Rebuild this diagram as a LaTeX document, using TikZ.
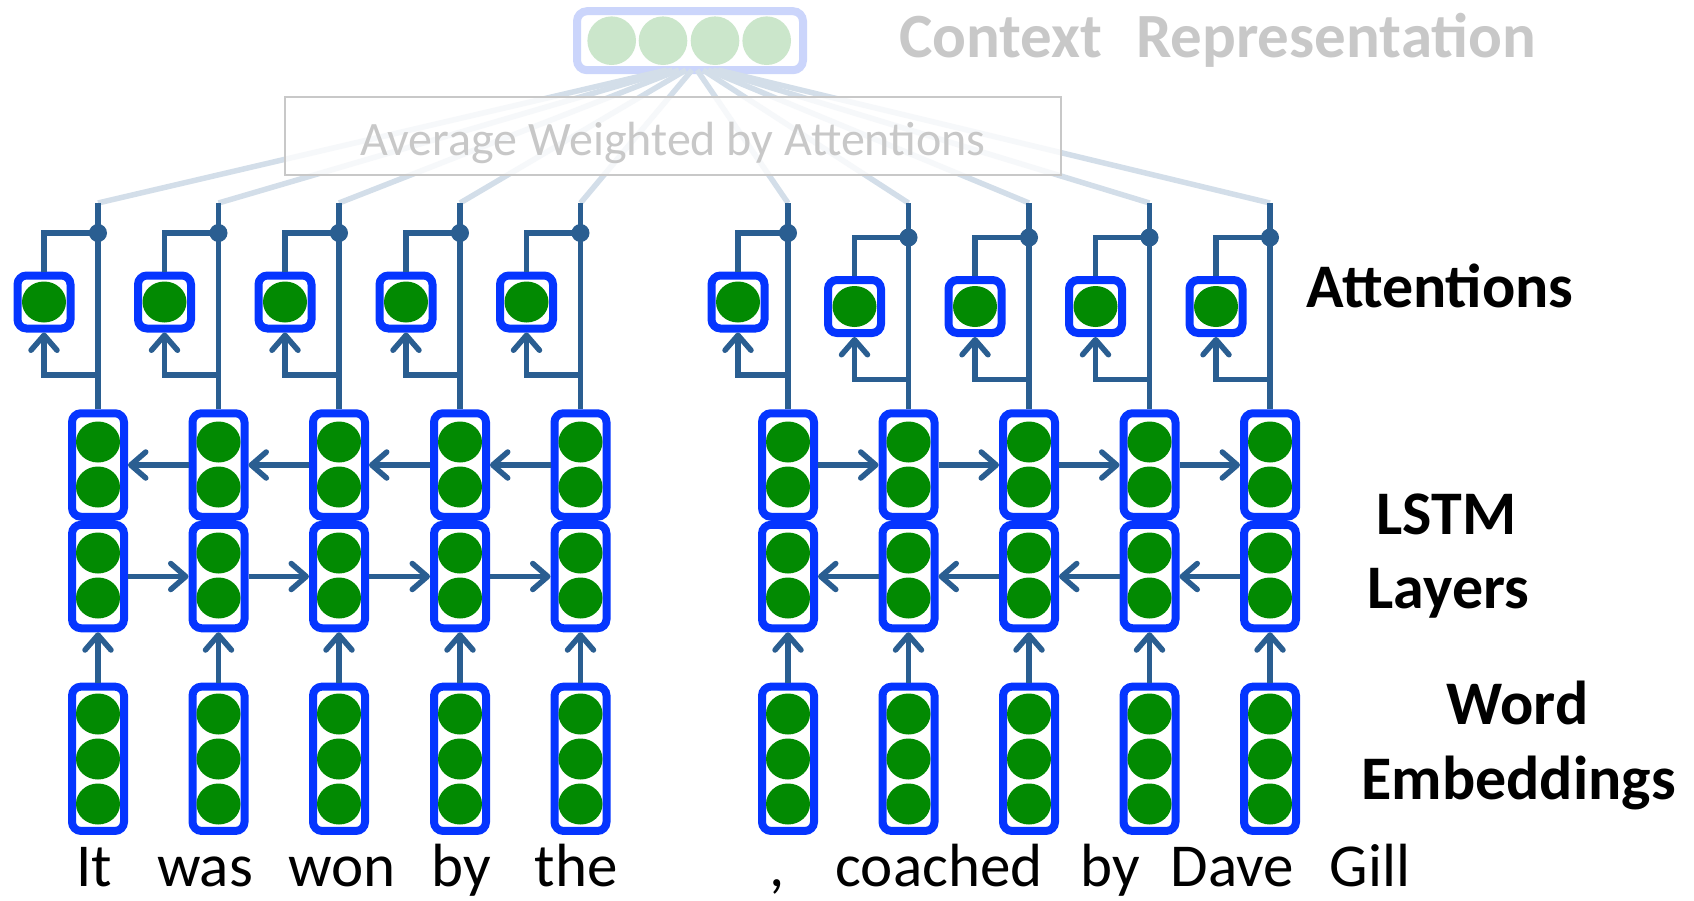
\documentclass[tikz,border=0pt]{standalone}
\usepackage{fontspec}
\setmainfont{Carlito}
\usetikzlibrary{arrows.meta}
\definecolor{boxblue}{HTML}{0535FF}
\definecolor{unitgreen}{HTML}{028A02}
\definecolor{wirecol}{HTML}{2A5E91}
\definecolor{fancol}{HTML}{D3DEE9}
\definecolor{ctxblue}{HTML}{CBD5FB}
\definecolor{ctxgreen}{HTML}{CBE6CB}
\definecolor{greytext}{HTML}{C8C8C8}
\newcommand{\unitdot}[2]{\fill[unitgreen] (#1,#2) ellipse [x radius=22pt, y radius=20.5pt];}
\begin{document}
\begin{tikzpicture}[x=1pt,y=-1pt,
  >={Straight Barb[length=15pt,width=26pt,round]},
  cell/.style={rectangle,draw=boxblue,line width=8pt,rounded corners=9pt,fill=white,
    minimum width=52pt,inner sep=0pt,outer sep=4pt},
  wire/.style={draw=wirecol,line width=5.5pt},
  fanline/.style={draw=fancol,line width=5.5pt},
  word/.style={anchor=base,inner sep=0pt,font=\fontsize{61}{61}\selectfont},
  tag/.style={anchor=base,inner sep=0pt,font=\bfseries\fontsize{62}{62}\selectfont},
]
\useasboundingbox (0,0) rectangle (1694,900);

% context vector at the top
\node[rectangle,draw=ctxblue,line width=8pt,rounded corners=10pt,fill=white,
  minimum width=226pt,minimum height=59pt,inner sep=0pt] (ctx) at (690,40.7) {};
\foreach \x in {611.7,663,715,766.7}
  \fill[ctxgreen] (\x,40.7) circle (24.3pt);
\node[anchor=base west,inner sep=0pt,text=greytext,font=\bfseries\fontsize{63}{63}\selectfont]
  (ctxlabel) at (899,57) {Context\hspace*{34pt}Representation};

% column positions: index/x/fan source x
\foreach \i/\cx/\sx in {0/98/667,1/218.5/672.5,2/339/679,3/460/686,4/580.5/692,
    5/788/697,6/908.5/703,7/1029/708,8/1149.5/713,9/1270/718}{
  \coordinate (top\i) at (\cx,203);
  \coordinate (src\i) at (\sx,70);
  \draw[fanline] (top\i) -- (src\i);
}

% averaging box over the fan
\node[rectangle,draw=greytext,line width=2.5pt,fill=white,fill opacity=0.8,
  minimum width=776pt,minimum height=78pt,inner sep=0pt] (avg) at (673,136) {};
\node[anchor=base,inner sep=0pt,text=greytext,font=\fontsize{48}{48}\selectfont] (avgtext) at (673,155)
  {Average Weighted by Attentions};

% columns: index/x/attention dx/attention dy
\foreach \i/\cx/\dx/\dy in {0/98/-54/0,1/218.5/-54/0,2/339/-54/0,
    3/460/-54/0,4/580.5/-54/0,5/788/-50/0,6/908.5/-54/4.5,
    7/1029/-54/4.5,8/1149.5/-54/4.5,9/1270/-54/4.5}{
  % word embedding
  \node[cell,minimum height=144.3pt] (emb\i) at (\cx,758.8) {};
  \unitdot{\cx}{714}\unitdot{\cx}{759}\unitdot{\cx}{804}
  % two LSTM layers
  \node[cell,minimum height=103.5pt] (lo\i) at (\cx,576.5) {};
  \unitdot{\cx}{553}\unitdot{\cx}{598}
  \node[cell,minimum height=103.5pt] (up\i) at (\cx,465) {};
  \unitdot{\cx}{442}\unitdot{\cx}{487}
  \draw[wire,->] (emb\i.north) -- (lo\i.south);
  % attention unit
  \node[cell,minimum width=53pt,minimum height=53pt] (att\i) at (\cx+\dx,302+\dy) {};
  \fill[unitgreen] (att\i.center) ellipse [x radius=22pt, y radius=20.5pt];
  \coordinate (jn\i) at (\cx,233+\dy);
  \coordinate (br\i) at (\cx,375+\dy);
  \draw[wire] (up\i.north) -- (top\i);
  \draw[wire] (jn\i) -| (att\i.north);
  \draw[wire,->] (br\i) -| (att\i.south);
  \fill[wirecol] (jn\i) circle (9pt);
}

% recurrent connections, left sentence part
\foreach \i/\j in {0/1,1/2,2/3,3/4}{
  \draw[wire,->] (lo\i.east) -- (lo\j.west);
  \draw[wire,->] (up\j.west) -- (up\i.east);
}
% recurrent connections, right sentence part
\foreach \i/\j in {5/6,6/7,7/8,8/9}{
  \draw[wire,->] (up\i.east) -- (up\j.west);
  \draw[wire,->] (lo\j.west) -- (lo\i.east);
}

% words
\node[word] (w0) at (94,886) {It};
\node[word] (w1) at (205,886) {was};
\node[word] (w2) at (342,886) {won};
\node[word] (w3) at (461,886) {by};
\node[word] (w4) at (576,886) {the};
\node[word] (w5) at (777,886) {,};
\node[word] (w6) at (939,886) {coached};
\node[word] (w7) at (1110,886) {by};
\node[word] (w8) at (1232,886) {Dave};
\node[word] (w9) at (1370,886) {Gill};

% layer labels
\node[tag] (tagatt) at (1440,307) {Attentions};
\node[tag] (taglstm) at (1446.5,534) {LSTM};
\node[tag] (taglay) at (1448.5,608) {Layers};
\node[tag] (tagword) at (1517.5,724) {Word};
\node[tag] (tagemb) at (1518.5,799) {Embeddings};
\end{tikzpicture}
\end{document}
